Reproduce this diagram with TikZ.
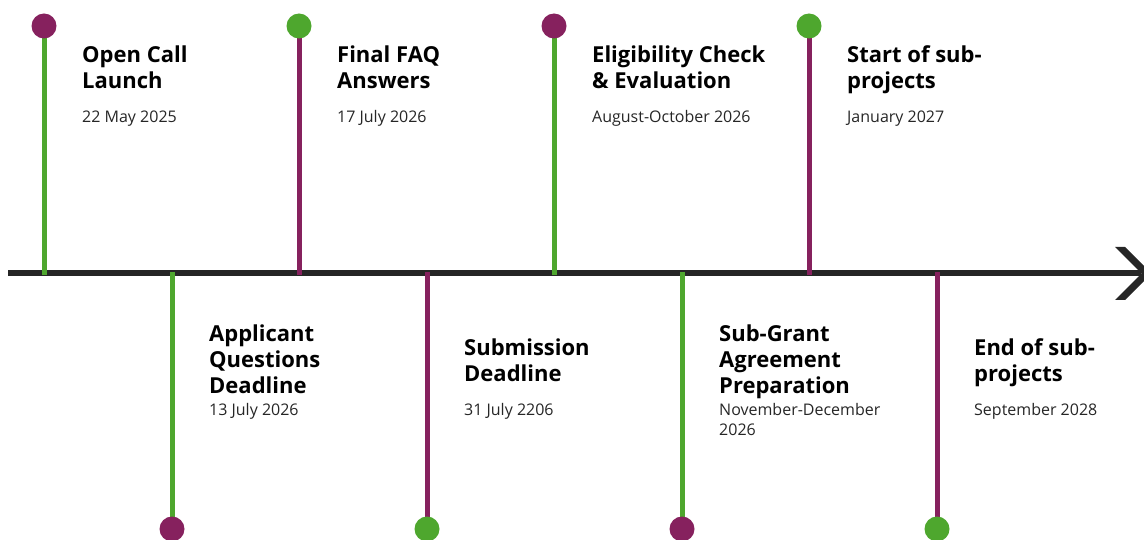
\documentclass[tikz,border=0pt]{standalone}
\usepackage{fontspec}
\setmainfont{Open Sans}
\definecolor{tlpurple}{HTML}{86215E}
\definecolor{tlgreen}{HTML}{4EA72E}
\definecolor{axisgray}{HTML}{262626}
\begin{document}
\begin{tikzpicture}[x=1pt,y=-1pt,
  stem/.style={line width=5pt},
  dot/.style={circle, inner sep=0pt, minimum size=25pt},
  ttl/.style={anchor=base west, inner sep=0pt, align=left, text=black,
    font=\fontsize{22}{26}\selectfont\bfseries},
  dte/.style={anchor=base west, inner sep=0pt, align=left, text=axisgray,
    font=\fontsize{16}{19.5}\selectfont},
  axisline/.style={line width=6pt, draw=axisgray}]
\useasboundingbox (0,0) rectangle (1144,540);
% axis
\coordinate (axL) at (8,273.5);
\coordinate (axR) at (1141,273.5);
\draw[axisline] (axL) -- (axR);
\fill[axisgray] (1115,247) -- (1125,247) -- (1151.5,273.5) -- (1125,300) -- (1115,300) -- (1141.5,273.5) -- cycle;
% stem end points
\coordinate (t1) at (44,26);
\coordinate (t2) at (299,26);
\coordinate (t3) at (554,26);
\coordinate (t4) at (809,26);
\coordinate (ta1) at (44,275);
\coordinate (ta2) at (299,275);
\coordinate (ta3) at (554,275);
\coordinate (ta4) at (809,275);
\coordinate (b1) at (172,529);
\coordinate (b2) at (427,529);
\coordinate (b3) at (682,529);
\coordinate (b4) at (937,529);
\coordinate (ba1) at (172,272);
\coordinate (ba2) at (427,272);
\coordinate (ba3) at (682,272);
\coordinate (ba4) at (937,272);
% stems
\draw[stem, tlgreen]  (t1) -- (ta1);
\draw[stem, tlpurple] (t2) -- (ta2);
\draw[stem, tlgreen]  (t3) -- (ta3);
\draw[stem, tlpurple] (t4) -- (ta4);
\draw[stem, tlgreen]  (ba1) -- (b1);
\draw[stem, tlpurple] (ba2) -- (b2);
\draw[stem, tlgreen]  (ba3) -- (b3);
\draw[stem, tlpurple] (ba4) -- (b4);
% dots
\node[dot, fill=tlpurple] (t1c) at (t1) {};
\node[dot, fill=tlgreen]  (t2c) at (t2) {};
\node[dot, fill=tlpurple] (t3c) at (t3) {};
\node[dot, fill=tlgreen]  (t4c) at (t4) {};
\node[dot, fill=tlpurple] (b1c) at (b1) {};
\node[dot, fill=tlgreen]  (b2c) at (b2) {};
\node[dot, fill=tlpurple] (b3c) at (b3) {};
\node[dot, fill=tlgreen]  (b4c) at (b4) {};
% top labels (anchor at baseline of last line)
\node[ttl] (l1) at (82,89) {Open Call\\Launch};
\node[dte] (d1) at (82,122.5) {22 May 2025};
\node[ttl] (l2) at (337,89) {Final FAQ\\Answers};
\node[dte] (d2) at (337,122.5) {17 July 2026};
\node[ttl] (l3) at (592,89) {Eligibility Check\\\& Evaluation};
\node[dte] (d3) at (592,122.5) {August-October 2026};
\node[ttl] (l4) at (847,89) {Start of sub-\\projects};
\node[dte] (d4) at (847,122.5) {January 2027};
% bottom labels
\node[ttl] (l5) at (209,393.3) {Applicant\\Questions\\Deadline};
\node[dte] (d5) at (209,415.5) {13 July 2026};
\node[ttl] (l6) at (464,381) {Submission\\Deadline};
\node[dte] (d6) at (464,415.5) {31 July 2206};
\node[ttl] (l7) at (719,393.3) {Sub-Grant\\Agreement\\Preparation};
\node[dte] (d7) at (719,435) {November-December\\2026};
\node[ttl] (l8) at (974,381) {End of sub-\\projects};
\node[dte] (d8) at (974,415.5) {September 2028};
\end{tikzpicture}
\end{document}
